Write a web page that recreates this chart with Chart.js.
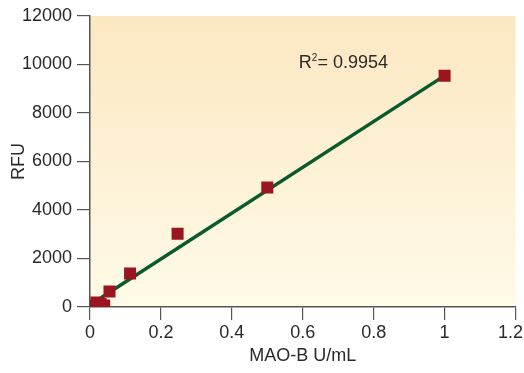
<!DOCTYPE html>
<html>
<head>
<meta charset="utf-8">
<script src="https://cdn.jsdelivr.net/npm/chart.js@4"></script>
<style>
  html, body { margin: 0; padding: 0; background: #ffffff; }
  #wrap { width: 524px; height: 373px; }
</style>
</head>
<body>
<div id="wrap"><canvas id="mainChart" width="524" height="373"></canvas></div>
<script>
// measured points (MAO-B U/mL vs RFU)
const enzymeConc = [0.006, 0.018, 0.03, 0.04, 0.055, 0.113, 0.247, 0.5, 1.0];
const rfuValues = [40, 180, 120, 60, 640, 1380, 3020, 4930, 9540];

// fitted line end points
const fitX = [0.03, 1.0];
const fitY = [370, 9540];

const xTicks = [0, 0.2, 0.4, 0.6, 0.8, 1, 1.2];
const yTicks = [0, 2000, 4000, 6000, 8000, 10000, 12000];
const r2Text = "0.9954";

const textColor = "#2a2a2a";
const axisColor = "#555555";
const fontFamily = "'Liberation Sans', Arial, sans-serif";

// soft gradient behind the plot area
const bgPlugin = {
  id: "plotBg",
  beforeDraw(chart) {
    const { ctx, chartArea: a } = chart;
    const g = ctx.createLinearGradient(0, a.top, 0, a.bottom);
    g.addColorStop(0, "#fce7c2");
    g.addColorStop(1, "#fefbe7");
    ctx.save();
    ctx.fillStyle = g;
    ctx.fillRect(a.left, a.top, a.right - a.left, a.bottom - a.top);
    ctx.restore();
  },
};

// R² annotation
const r2Plugin = {
  id: "r2Label",
  afterDatasetsDraw(chart) {
    const { ctx } = chart;
    const x = chart.scales.x.getPixelForValue(0.589);
    const y = chart.scales.y.getPixelForValue(10050);
    ctx.save();
    ctx.fillStyle = textColor;
    ctx.textBaseline = "middle";
    ctx.textAlign = "left";
    ctx.font = "18px " + fontFamily;
    ctx.fillText("R", x, y);
    let w = ctx.measureText("R").width;
    ctx.font = "10px " + fontFamily;
    ctx.fillText("2", x + w, y - 5);
    w += ctx.measureText("2").width;
    ctx.font = "18px " + fontFamily;
    ctx.fillText("= " + r2Text, x + w, y);
    ctx.restore();
  },
};

const ctx = document.getElementById("mainChart").getContext("2d");

new Chart(ctx, {
  type: "scatter",
  data: {
    datasets: [
      {
        label: "fit",
        type: "line",
        data: fitX.map((x, i) => ({ x: x, y: fitY[i] })),
        borderColor: "#0b5a2c",
        borderWidth: 3.5,
        pointRadius: 0,
        fill: false,
        order: 2,
      },
      {
        label: "data",
        data: enzymeConc.map((x, i) => ({ x: x, y: rfuValues[i] })),
        pointStyle: "rect",
        pointRadius: 8.5,
        pointHoverRadius: 8.5,
        backgroundColor: "#9b1521",
        borderColor: "#9b1521",
        borderWidth: 0,
        order: 1,
      },
    ],
  },
  options: {
    responsive: false,
    animation: false,
    layout: { padding: { top: 16, right: 7, left: 8, bottom: 6 } },
    plugins: {
      legend: { display: false },
      tooltip: { enabled: false },
    },
    scales: {
      x: {
        type: "linear",
        min: 0,
        max: 1.2,
        afterBuildTicks: (scale) => {
          scale.ticks = xTicks.map((v) => ({ value: v }));
        },
        afterFit: (scale) => {
          scale.height = 373 - 307 - 6;
          scale.paddingLeft = 0;
          scale.paddingRight = 0;
        },
        ticks: {
          color: textColor,
          font: { family: fontFamily, size: 18 },
          padding: 2,
          maxRotation: 0,
          callback: (v) => (v === 1.2 ? "1.2  " : String(v)),
        },
        grid: {
          drawOnChartArea: false,
          drawTicks: true,
          tickLength: 13,
          color: axisColor,
          lineWidth: 1.2,
        },
        border: { display: true, color: axisColor, width: 1.5 },
        title: {
          display: true,
          text: "MAO-B U/mL",
          color: textColor,
          font: { family: fontFamily, size: 18 },
          padding: { top: 2, bottom: 0 },
        },
      },
      y: {
        type: "linear",
        min: 0,
        max: 12000,
        afterBuildTicks: (scale) => {
          scale.ticks = yTicks.map((v) => ({ value: v }));
        },
        afterFit: (scale) => {
          scale.width = 90 - 8;
        },
        ticks: {
          color: textColor,
          font: { family: fontFamily, size: 18 },
          padding: 5,
          callback: (v) => String(v),
        },
        grid: {
          drawOnChartArea: false,
          drawTicks: true,
          tickLength: 13,
          color: axisColor,
          lineWidth: 1.2,
        },
        border: { display: true, color: axisColor, width: 1.5 },
        title: {
          display: true,
          text: "RFU",
          color: textColor,
          font: { family: fontFamily, size: 18 },
          padding: { top: 0, bottom: 0 },
        },
      },
    },
  },
  plugins: [bgPlugin, r2Plugin],
});
</script>
</body>
</html>
